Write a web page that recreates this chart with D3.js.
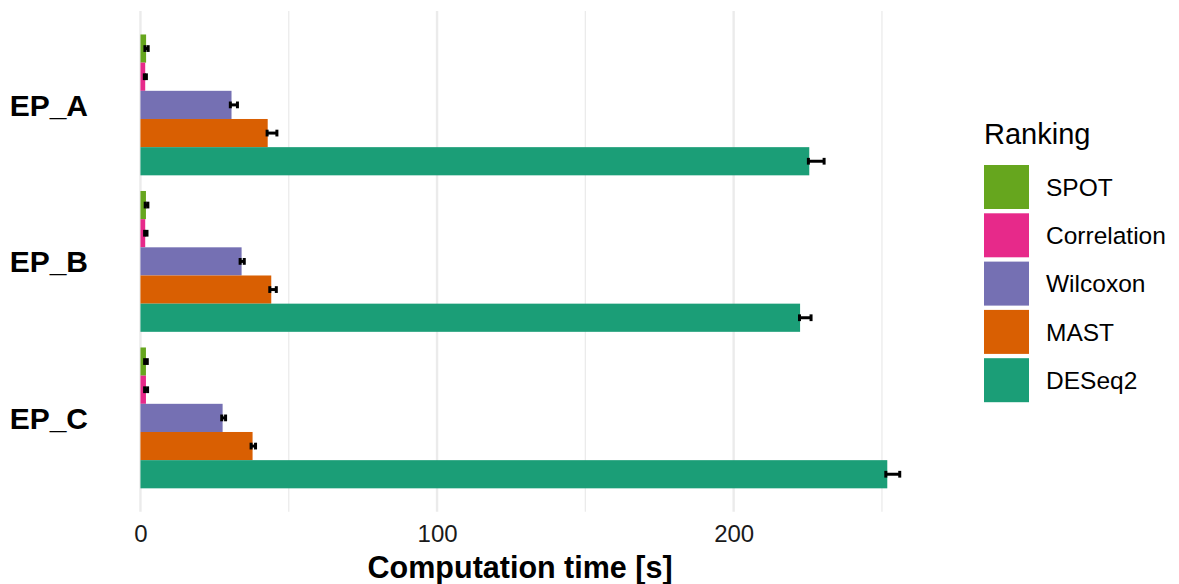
<!DOCTYPE html>
<html>
<head>
<meta charset="utf-8">
<script src="https://cdn.jsdelivr.net/npm/d3@7"></script>
<style>
  html, body { margin: 0; padding: 0; background: #fff; }
  svg { display: block; font-family: "Liberation Sans", Arial, sans-serif; }
</style>
</head>
<body>
<svg id="chart" width="1179" height="584"></svg>
<script>
// Data: computation time per episode and ranking method (seconds)
const episodes = ["EP_A", "EP_B", "EP_C"];
const rankings = ["SPOT", "Correlation", "Wilcoxon", "MAST", "DESeq2"];
const colors = ["#66A61E", "#E7298A", "#7570B3", "#D95F02", "#1B9E77"];

// mean time, one array per episode, in ranking order
const timeEP_A = [1.9, 1.6, 30.7, 42.9, 225.5];
const timeEP_B = [1.85, 1.6, 34.1, 44.1, 222.4];
const timeEP_C = [1.85, 1.85, 27.7, 37.8, 251.8];
// error bar limits
const lowEP_A = [1.5, 1.3, 30.3, 42.7, 225.2];
const highEP_A = [2.6, 2.0, 32.7, 46.0, 230.5];
const lowEP_B = [1.6, 1.4, 33.6, 43.6, 222.2];
const highEP_B = [2.5, 2.2, 35.0, 45.8, 226.1];
const lowEP_C = [1.4, 1.4, 27.4, 37.3, 251.3];
const highEP_C = [2.3, 2.4, 28.7, 38.8, 256.0];

const xTicks = [0, 100, 200];
const xMinor = [50, 150, 250];
const xTitle = "Computation time [s]";
const legendTitle = "Ranking";

const times = [timeEP_A, timeEP_B, timeEP_C];
const lows = [lowEP_A, lowEP_B, lowEP_C];
const highs = [highEP_A, highEP_B, highEP_C];

const rows = [];
episodes.forEach((ep, i) => {
  rankings.forEach((r, j) => {
    rows.push({ ep, ranking: r, value: times[i][j], lo: lows[i][j], hi: highs[i][j], color: colors[j] });
  });
});

const svg = d3.select("#chart");
const panel = { left: 102.5, right: 937.7, top: 11, bottom: 511.8 };

const x = d3.scaleLinear().domain([-12.8, 268.8]).range([panel.left, panel.right]);
const y = d3.scaleBand().domain(episodes).range([panel.top, panel.bottom])
  .paddingInner(0.1).paddingOuter(0.15);
const yInner = d3.scaleBand().domain(rankings).range([0, y.bandwidth()]);

// grid lines
const grid = svg.append("g");
grid.selectAll("line.minor").data(xMinor).join("line")
  .attr("class", "minor")
  .attr("x1", d => x(d)).attr("x2", d => x(d))
  .attr("y1", panel.top).attr("y2", panel.bottom)
  .attr("stroke", "#ebebeb").attr("stroke-width", 1.3);
grid.selectAll("line.major").data(xTicks).join("line")
  .attr("class", "major")
  .attr("x1", d => x(d)).attr("x2", d => x(d))
  .attr("y1", panel.top).attr("y2", panel.bottom)
  .attr("stroke", "#ebebeb").attr("stroke-width", 2.4);

// bars
svg.append("g").selectAll("rect").data(rows).join("rect")
  .attr("x", x(0))
  .attr("y", d => y(d.ep) + yInner(d.ranking))
  .attr("width", d => x(d.value) - x(0))
  .attr("height", yInner.bandwidth())
  .attr("fill", d => d.color);

// error bars
const capH = yInner.bandwidth() * 0.24;
const eb = svg.append("g").attr("stroke", "#000").attr("stroke-width", 3).attr("fill", "none");
rows.forEach(d => {
  const cy = y(d.ep) + yInner(d.ranking) + yInner.bandwidth() / 2;
  eb.append("line").attr("x1", x(d.lo)).attr("x2", x(d.hi)).attr("y1", cy).attr("y2", cy);
  eb.append("line").attr("x1", x(d.lo)).attr("x2", x(d.lo)).attr("y1", cy - capH / 2).attr("y2", cy + capH / 2);
  eb.append("line").attr("x1", x(d.hi)).attr("x2", x(d.hi)).attr("y1", cy - capH / 2).attr("y2", cy + capH / 2);
});

// x axis labels
const xAxis = svg.append("g").attr("transform", `translate(0,${panel.bottom + 30})`)
  .call(d3.axisBottom(x).tickValues(xTicks).tickSize(0).tickPadding(0));
xAxis.select(".domain").remove();
xAxis.selectAll("text").attr("font-size", 24).attr("fill", "#1a1a1a")
  .attr("font-family", "Liberation Sans, Arial, sans-serif").attr("dy", 0);

// y axis labels
const yAxis = svg.append("g").attr("transform", `translate(${88},0)`)
  .call(d3.axisLeft(y).tickSize(0).tickPadding(0));
yAxis.select(".domain").remove();
yAxis.selectAll("text").attr("font-size", 30).attr("font-weight", "bold").attr("fill", "#000")
  .attr("font-family", "Liberation Sans, Arial, sans-serif").attr("dy", "0.36em");

// x axis title
svg.append("text")
  .attr("x", (panel.left + panel.right) / 2).attr("y", 578)
  .attr("text-anchor", "middle").attr("font-size", 30.5).attr("font-weight", "bold")
  .attr("fill", "#000").text(xTitle);

// legend
const legend = svg.append("g").attr("transform", "translate(984,0)");
legend.append("text").attr("x", 0).attr("y", 144).attr("font-size", 29).attr("fill", "#000").text(legendTitle);
const keyStep = 48.3, keyTop = 165, keyW = 45, keyH = 44;
rankings.forEach((r, j) => {
  const ky = keyTop + j * keyStep;
  legend.append("rect").attr("x", 0).attr("y", ky).attr("width", keyW).attr("height", keyH).attr("fill", colors[j]);
  legend.append("text").attr("x", 62).attr("y", ky + keyH / 2).attr("dy", "0.36em")
    .attr("font-size", 24.5).attr("fill", "#000").text(r);
});
</script>
</body>
</html>
